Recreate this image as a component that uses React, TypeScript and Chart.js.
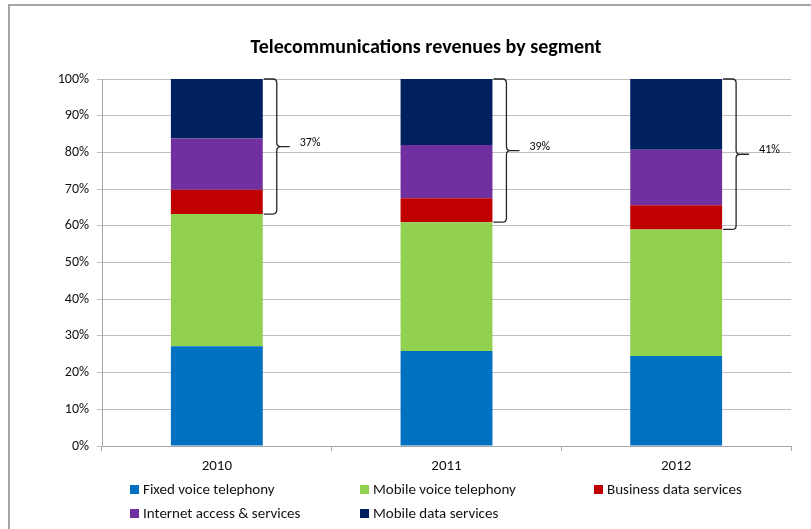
import React, { useEffect, useRef } from "react";
import { Chart, registerables } from "chart.js";
Chart.register(...registerables);

const categories = ["2010", "2011", "2012"];
const seriesNames = [
  "Fixed voice telephony",
  "Mobile voice telephony",
  "Business data services",
  "Internet access & services",
  "Mobile data services",
];
const seriesColors = ["#0070C0", "#92D050", "#C00000", "#7030A0", "#002060"];
const fixedVoice = [27.2, 25.9, 24.5];
const mobileVoice = [36.0, 35.1, 34.5];
const businessData = [6.6, 6.5, 6.6];
const internetAccess = [14.0, 14.5, 15.1];
const mobileData = [16.2, 18.0, 19.3];
const titleText = "Telecommunications revenues by segment";

const FONT = "Carlito, Calibri, Lato, sans-serif";

const overlayPlugin = {
  id: "overlay",
  afterDraw(chart: any) {
    const ctx = chart.ctx;
    const y = chart.scales.y;
    ctx.save();
    // frame
    ctx.strokeStyle = "#A6A6A6";
    ctx.lineWidth = 2;
    ctx.beginPath();
    ctx.moveTo(9, 529);
    ctx.lineTo(9, 5);
    ctx.lineTo(811, 5);
    ctx.stroke();

    // title
    ctx.fillStyle = "#000";
    ctx.font = `bold 20px ${FONT}`;
    ctx.textAlign = "center";
    ctx.textBaseline = "middle";
    ctx.fillText(titleText, 426, 48);

    // brackets
    const topMeta = chart.getDatasetMeta(4);
    ctx.strokeStyle = "#262626";
    ctx.lineWidth = 1.3;
    ctx.font = `12px ${FONT}`;
    ctx.textAlign = "left";
    categories.forEach((_, i) => {
      const bar = topMeta.data[i];
      const right = bar.x + bar.width / 2;
      const base = fixedVoice[i] + mobileVoice[i];
      const top = y.getPixelForValue(100);
      const bottom = y.getPixelForValue(base);
      const mid = (top + bottom) / 2;
      const bx = right + 14;
      ctx.beginPath();
      ctx.moveTo(right + 1, top);
      ctx.lineTo(bx - 4, top);
      ctx.quadraticCurveTo(bx, top, bx, top + 4);
      ctx.lineTo(bx, mid - 4);
      ctx.quadraticCurveTo(bx, mid, bx + 4, mid);
      ctx.lineTo(bx + 13, mid);
      ctx.moveTo(bx + 4, mid);
      ctx.quadraticCurveTo(bx, mid, bx, mid + 4);
      ctx.lineTo(bx, bottom - 4);
      ctx.quadraticCurveTo(bx, bottom, bx - 4, bottom);
      ctx.lineTo(right + 1, bottom);
      ctx.stroke();
      ctx.fillStyle = "#000";
      ctx.fillText(`${Math.round(100 - base)}%`, bx + 23, mid - 4);
    });

    // legend
    ctx.font = `15px ${FONT}`;
    ctx.textBaseline = "middle";
    const cols = [130, 360, 594];
    const rows = [490, 514];
    chart.data.datasets.forEach((ds: any, k: number) => {
      const cx = cols[k % 3];
      const cy = rows[Math.floor(k / 3)];
      ctx.fillStyle = ds.backgroundColor;
      ctx.fillRect(cx, cy - 5, 9, 9);
      ctx.fillStyle = "#111";
      ctx.fillText(ds.label, cx + 13, cy);
    });
    ctx.restore();
  },
};

export default function App() {
  const ref = useRef<HTMLCanvasElement>(null);
  useEffect(() => {
    const series = [fixedVoice, mobileVoice, businessData, internetAccess, mobileData];
    const chart = new Chart(ref.current as HTMLCanvasElement, {
      type: "bar",
      data: {
        labels: categories,
        datasets: series.map((d, k) => ({
          label: seriesNames[k],
          data: d,
          backgroundColor: seriesColors[k],
          borderWidth: 0,
          categoryPercentage: 1,
          barPercentage: 0.4,
        })),
      },
      options: {
        animation: false,
        responsive: false,
        devicePixelRatio: 1,
        layout: { padding: { top: 79, right: 20, left: 0, bottom: 0 } },
        plugins: { legend: { display: false }, title: { display: false }, tooltip: { enabled: false } },
        scales: {
          x: {
            stacked: true,
            afterFit: (s: any) => {
              s.height = 83;
            },
            grid: { offset: true, drawOnChartArea: false, drawTicks: true, tickLength: 5, color: "#A6A6A6" },
            border: { color: "#A6A6A6", width: 1 },
            ticks: { color: "#111", font: { family: FONT, size: 15 }, padding: 6 },
          },
          y: {
            stacked: true,
            min: 0,
            max: 100,
            afterFit: (s: any) => {
              s.width = 102;
            },
            grid: { color: "#BFBFBF", tickLength: 5 },
            border: { color: "#A6A6A6", width: 1 },
            ticks: {
              stepSize: 10,
              color: "#111",
              font: { family: FONT, size: 14 },
              padding: 8,
              callback: (v: any) => `${v}%`,
            },
          },
        },
      },
      plugins: [overlayPlugin],
    });
    return () => chart.destroy();
  }, []);
  return (
    <div style={{ position: "absolute", left: 0, top: 0, width: 811, height: 529, background: "#fff" }}>
      <canvas ref={ref} width={811} height={529} />
    </div>
  );
}
